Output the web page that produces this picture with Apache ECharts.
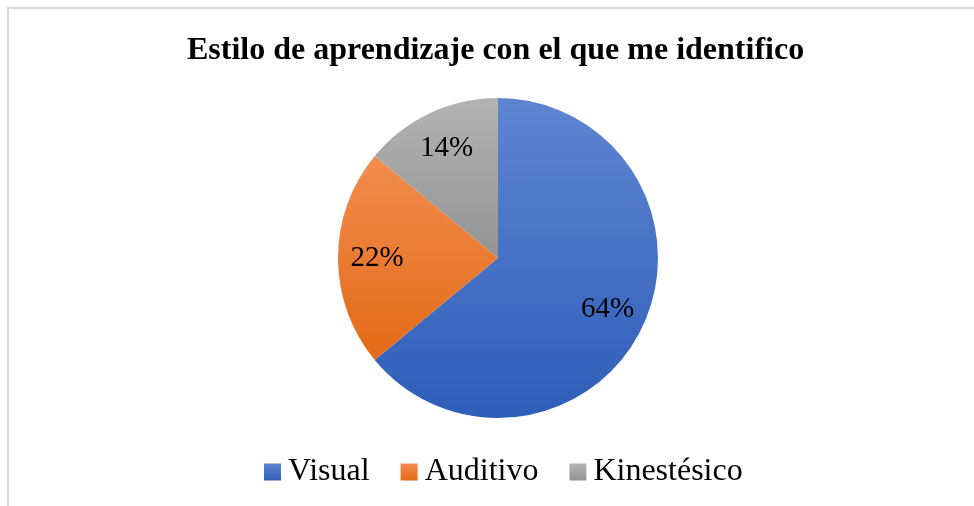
<!DOCTYPE html>
<html>
<head>
<meta charset="utf-8">
<script src="https://cdn.jsdelivr.net/npm/echarts@6/dist/echarts.min.js"></script>
<style>
  html, body { margin: 0; padding: 0; background: #fff; }
  #chart { width: 974px; height: 506px; }
</style>
</head>
<body>
<div id="chart"></div>
<script>
const categories = ['Visual', 'Auditivo', 'Kinestésico'];
const values = [64, 22, 14];
const colorTop = ['#5f85d0', '#f28c4e', '#b3b3b3'];
const colorBottom = ['#2e5eba', '#e36a17', '#939393'];

document.addEventListener('DOMContentLoaded', function() {
    const chart = echarts.init(document.getElementById('chart'));
    const font = '"Liberation Serif", "Times New Roman", serif';

    const data = categories.map((name, i) => ({
        name: name,
        value: values[i],
        itemStyle: {
            color: new echarts.graphic.LinearGradient(0, 0, 0, 1, [
                { offset: 0, color: colorTop[i] },
                { offset: 1, color: colorBottom[i] }
            ])
        }
    }));

    const option = {
        backgroundColor: '#fff',
        animation: false,
        title: {
            text: 'Estilo de aprendizaje con el que me identifico',
            left: 182,
            top: 30,
            textStyle: { fontFamily: font, fontSize: 32, fontWeight: 'bold', color: '#000' }
        },
        legend: {
            data: categories,
            top: 456,
            left: 264,
            padding: 0,
            icon: 'rect',
            itemWidth: 17,
            itemHeight: 17,
            itemGap: 31,
            textStyle: { fontFamily: font, fontSize: 32, color: '#000', padding: [0, 0, 0, 2] }
        },
        graphic: [{
            type: 'rect',
            shape: { x: 8, y: 8, width: 1000, height: 600 },
            style: { fill: 'none', stroke: '#d9d9d9', lineWidth: 2 },
            silent: true
        }],
        series: [
            {
                name: 'Estilo',
                type: 'pie',
                center: [498, 258],
                radius: [0, 160],
                startAngle: 90,
                clockwise: true,
                label: { show: false },
                labelLine: { show: false },
                data: data
            },
            {
                name: 'Etiquetas',
                type: 'pie',
                center: [498, 258],
                radius: [76, 160],
                startAngle: 90,
                clockwise: true,
                silent: true,
                itemStyle: { color: 'transparent' },
                label: {
                    show: true,
                    position: 'inside',
                    formatter: '{d}%',
                    fontFamily: font,
                    fontSize: 29,
                    color: '#000'
                },
                labelLine: { show: false },
                data: categories.map((name, i) => ({ name: name, value: values[i] }))
            }
        ]
    };

    chart.setOption(option);
});
</script>
</body>
</html>
